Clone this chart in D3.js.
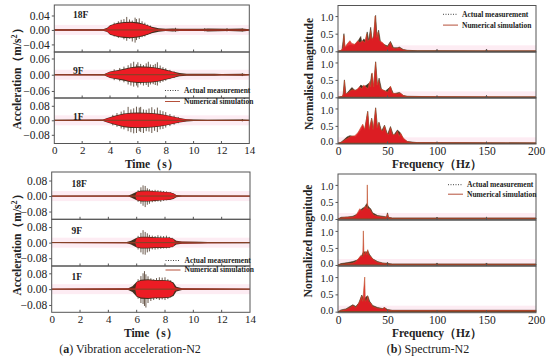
<!DOCTYPE html>
<html>
<head>
<meta charset="utf-8">
<script src="https://cdn.jsdelivr.net/npm/d3@7"></script>
<style>
  body { margin: 0; background: #fff; }
  svg { display: block; }
  text { font-family: "Liberation Serif", "Times New Roman", serif; fill: #222; }
</style>
</head>
<body>
<svg id="chart" width="550" height="361"></svg>
<script>
// ---- data ----
var floors = ["18F", "9F", "1F"]
var timeTicks = [0, 2, 4, 6, 8, 10, 12, 14]
var freqTicks = [0, 50, 100, 150, 200]
var magTicks = [0.0, 0.5, 1.0]

// top-left: acceleration envelopes [t, amp] and spikes [t, up, down]
var top18Sim = [[0,0.0015],[3.5,0.0015],[3.8,0.004],[4.0,0.011],[4.3,0.015],[4.7,0.018],[5.0,0.019],[5.5,0.02],[6.0,0.018],[6.4,0.015],[6.8,0.01],[7.0,0.006],[7.3,0.003],[7.6,0.002],[14,0.0015]]
var top18Meas = [[0,0.002],[3.5,0.002],[3.8,0.006],[4.0,0.013],[4.5,0.019],[5.0,0.022],[5.5,0.023],[6.0,0.021],[6.5,0.016],[7.0,0.009],[7.5,0.005],[8.0,0.003],[8.5,0.004],[9.0,0.003],[10.8,0.003],[11,0.004],[12.5,0.003],[13.5,0.004],[14,0.002]]
var top18Spikes = [[4.3,0.02,-0.018],[4.6,0.024,-0.022],[4.8,0.028,-0.02],[5.0,0.03,-0.026],[5.2,0.036,-0.03],[5.4,0.029,-0.024],[5.6,0.026,-0.032],[5.8,0.034,-0.035],[5.9,0.03,-0.028],[6.1,0.032,-0.025],[6.3,0.024,-0.02],[6.5,0.02,-0.018],[6.7,0.015,-0.014],[6.9,0.012,-0.01],[8.7,0.006,-0.005],[10.8,0.005,-0.004],[12.4,0.005,-0.004],[13.5,0.004,-0.004]]

var top9Sim = [[0,0.0015],[3.6,0.002],[4.0,0.01],[4.5,0.014],[5.0,0.018],[5.5,0.025],[6.0,0.027],[6.5,0.027],[7.0,0.026],[7.5,0.022],[8.0,0.016],[8.5,0.01],[8.9,0.004],[9.2,0.002],[14,0.0015]]
var top9Meas = [[0,0.002],[3.6,0.003],[4.0,0.012],[4.5,0.017],[5.0,0.022],[5.5,0.028],[6.0,0.031],[6.5,0.03],[7.0,0.029],[7.5,0.025],[8.0,0.019],[8.5,0.012],[9.0,0.006],[9.5,0.004],[10.5,0.004],[11.5,0.004],[12,0.003],[13.5,0.004],[14,0.002]]
var top9Spikes = [[4.3,0.02,-0.02],[4.7,0.025,-0.024],[5.0,0.03,-0.028],[5.3,0.035,-0.036],[5.5,0.042,-0.04],[5.7,0.048,-0.044],[5.9,0.038,-0.04],[6.0,0.046,-0.047],[6.2,0.04,-0.036],[6.4,0.036,-0.04],[6.6,0.042,-0.038],[6.75,0.048,-0.045],[6.9,0.038,-0.036],[7.1,0.036,-0.035],[7.25,0.04,-0.038],[7.4,0.046,-0.04],[7.6,0.034,-0.03],[7.8,0.028,-0.026],[8.0,0.024,-0.022],[8.3,0.018,-0.016],[8.6,0.012,-0.012],[13.5,0.006,-0.005]]

var top1Sim = [[0,0.002],[3.5,0.003],[3.8,0.01],[4.2,0.018],[4.6,0.026],[5.0,0.033],[5.5,0.037],[6.0,0.038],[6.5,0.037],[7.0,0.036],[7.5,0.032],[8.0,0.026],[8.5,0.018],[9.0,0.01],[9.5,0.004],[10,0.002],[14,0.002]]
var top1Meas = [[0,0.0025],[3.5,0.004],[3.8,0.012],[4.2,0.022],[4.6,0.03],[5.0,0.038],[5.5,0.042],[6.0,0.043],[6.5,0.042],[7.0,0.04],[7.5,0.036],[8.0,0.029],[8.5,0.021],[9.0,0.012],[9.5,0.006],[10,0.004],[11,0.003],[13.5,0.004],[14,0.003]]
var top1Spikes = [[4.2,0.03,-0.028],[4.5,0.04,-0.036],[4.8,0.048,-0.045],[5.0,0.055,-0.05],[5.3,0.074,-0.06],[5.5,0.06,-0.066],[5.7,0.066,-0.072],[5.9,0.075,-0.07],[6.1,0.07,-0.06],[6.2,0.074,-0.065],[6.4,0.06,-0.07],[6.6,0.058,-0.06],[6.8,0.065,-0.062],[7.0,0.072,-0.07],[7.2,0.06,-0.058],[7.4,0.07,-0.065],[7.6,0.055,-0.05],[7.8,0.05,-0.048],[8.0,0.045,-0.04],[8.3,0.035,-0.032],[8.6,0.026,-0.024],[8.9,0.018,-0.016],[13.5,0.007,-0.006]]

// bottom-left (N2)
var bot18Sim = [[0,0.002],[5.9,0.002],[6.0,0.02],[6.3,0.024],[6.8,0.025],[7.3,0.022],[7.8,0.02],[8.3,0.018],[8.6,0.012],[8.8,0.003],[9.0,0.002],[14,0.002]]
var bot18Meas = [[0,0.002],[5.4,0.003],[5.6,0.008],[6.0,0.022],[6.3,0.028],[6.8,0.028],[7.3,0.025],[7.8,0.022],[8.3,0.02],[8.6,0.015],[8.8,0.006],[9.2,0.003],[14,0.002]]
var bot18Spikes = [[6.1,0.03,-0.03],[6.3,0.045,-0.04],[6.45,0.055,-0.05],[6.6,0.052,-0.057],[6.75,0.04,-0.045],[6.9,0.035,-0.04],[7.1,0.03,-0.032],[7.3,0.032,-0.03],[7.5,0.03,-0.028],[7.7,0.028,-0.03],[7.9,0.026,-0.025],[8.1,0.024,-0.022],[8.4,0.02,-0.018]]

var bot9Sim = [[0,0.002],[5.9,0.003],[6.0,0.022],[6.3,0.026],[6.8,0.026],[7.3,0.024],[7.8,0.024],[8.3,0.024],[8.6,0.018],[8.7,0.006],[9.0,0.004],[10.5,0.003],[14,0.002]]
var bot9Meas = [[0,0.002],[5.3,0.003],[5.6,0.01],[6.0,0.025],[6.3,0.03],[6.8,0.03],[7.3,0.028],[7.8,0.027],[8.3,0.026],[8.6,0.02],[8.8,0.01],[9.2,0.006],[10.5,0.005],[11,0.003],[14,0.003]]
var bot9Spikes = [[6.1,0.035,-0.035],[6.3,0.05,-0.05],[6.45,0.064,-0.06],[6.6,0.055,-0.062],[6.75,0.048,-0.05],[6.9,0.04,-0.045],[7.1,0.036,-0.035],[7.3,0.034,-0.036],[7.5,0.038,-0.034],[7.7,0.035,-0.032],[7.9,0.034,-0.03],[8.1,0.036,-0.03],[8.3,0.03,-0.028],[8.5,0.025,-0.024]]

var bot1Sim = [[0,0.002],[5.9,0.003],[6.0,0.035],[6.3,0.042],[6.8,0.045],[7.3,0.042],[7.8,0.042],[8.3,0.04],[8.55,0.03],[8.7,0.008],[9.0,0.003],[14,0.002]]
var bot1Meas = [[0,0.002],[5.4,0.004],[5.7,0.015],[6.0,0.038],[6.3,0.048],[6.8,0.05],[7.3,0.046],[7.8,0.046],[8.3,0.044],[8.6,0.034],[8.8,0.012],[9.2,0.004],[14,0.002]]
var bot1Spikes = [[6.1,0.05,-0.048],[6.3,0.066,-0.07],[6.45,0.08,-0.075],[6.55,0.091,-0.085],[6.65,0.075,-0.093],[6.8,0.065,-0.07],[7.0,0.055,-0.06],[7.2,0.05,-0.055],[7.4,0.056,-0.05],[7.6,0.06,-0.055],[7.8,0.058,-0.052],[8.0,0.06,-0.055],[8.2,0.05,-0.05],[8.4,0.045,-0.042]]

// spectra [Hz, normalised magnitude]
var spTop18Sim = [[0,0],[3,0.02],[5,0.1],[6,0.45],[7,0.12],[9,0.2],[12,0.3],[14,0.22],[17,0.2],[20,0.3],[22,0.25],[25,0.3],[27,0.25],[29,0.5],[30,0.3],[32,0.35],[33,0.6],[34,0.35],[36,0.4],[37.5,1.0],[39,0.4],[40.5,0.55],[42,0.3],[45,0.25],[48,0.15],[50,0.12],[53,0.25],[55,0.1],[58,0.08],[62,0.1],[65,0.05],[70,0.02],[75,0.01],[200,0.01]]
var spTop18Meas = [[0,0],[4,0.03],[6,0.5],[7,0.1],[10,0.15],[13,0.18],[16,0.16],[20,0.28],[23,0.42],[24,0.25],[26,0.35],[28,0.3],[29.5,0.55],[31,0.3],[33,0.68],[34.5,0.3],[36,0.45],[38,1.02],[39.5,0.35],[41,0.6],[43,0.25],[46,0.2],[50,0.15],[53,0.28],[56,0.1],[60,0.1],[62,0.12],[66,0.05],[70,0.03],[80,0.015],[99,0.015],[100,0.05],[101,0.015],[149,0.01],[150,0.06],[151,0.01],[200,0.01]]
var spTop9Sim = [[0,0],[4,0.02],[5.5,0.1],[6.5,0.48],[7.5,0.1],[10,0.12],[13,0.2],[15,0.22],[18,0.2],[20,0.25],[22,0.3],[24,0.25],[26,0.35],[28,0.3],[30,0.25],[32,0.45],[33,0.3],[34.5,0.7],[36,0.3],[38,1.0],[39.5,0.35],[41,0.5],[43,0.25],[46,0.2],[50,0.15],[53,0.32],[55,0.12],[60,0.1],[63,0.12],[66,0.05],[70,0.02],[200,0.01]]
var spTop9Meas = [[0,0],[5,0.03],[6.5,0.5],[8,0.08],[11,0.18],[14,0.28],[17,0.2],[20,0.22],[23,0.35],[26,0.3],[29,0.35],[31,0.4],[32,0.25],[34,0.68],[36,0.3],[38,1.02],[40,0.3],[41.5,0.55],[44,0.22],[48,0.18],[53,0.3],[56,0.1],[62,0.14],[66,0.05],[70,0.03],[99,0.015],[100,0.04],[101,0.015],[149,0.01],[150,0.05],[151,0.01],[200,0.01]]
var spTop1Sim = [[0,0],[3,0.02],[6,0.08],[10,0.15],[13,0.2],[17,0.22],[20,0.3],[22,0.4],[25,0.55],[27,0.4],[30,0.9],[31.5,0.4],[34,0.7],[35.5,0.4],[38,1.0],[39.5,0.45],[41,0.6],[43,0.4],[45,0.35],[47,0.5],[49,0.3],[51,0.25],[53,0.45],[55,0.25],[58,0.25],[60,0.35],[62,0.2],[63,0.3],[66,0.15],[70,0.05],[75,0.02],[200,0.01]]
var spTop1Meas = [[0,0],[3,0.03],[6,0.1],[9,0.18],[12,0.22],[15,0.2],[18,0.18],[21,0.3],[24,0.4],[25,0.5],[27,0.38],[30,0.92],[31.5,0.35],[34,0.72],[36,0.4],[38,1.02],[40,0.42],[41.5,0.6],[44,0.35],[47,0.52],[50,0.25],[53,0.48],[56,0.22],[60,0.38],[63,0.3],[66,0.12],[70,0.05],[80,0.02],[200,0.01]]

var spBot18Sim = [[0,0],[3,0.03],[8,0.05],[15,0.06],[18,0.1],[20,0.2],[22,0.3],[24,0.25],[26,0.3],[28,0.38],[29.3,0.3],[29.6,1.0],[30,0.3],[32,0.3],[34,0.2],[36,0.12],[40,0.08],[45,0.06],[49,0.05],[50,0.15],[51,0.04],[55,0.02],[200,0.02]]
var spBot18Meas = [[0,0],[3,0.05],[10,0.06],[15,0.08],[20,0.15],[24,0.3],[27,0.35],[29,0.45],[31,0.35],[33,0.3],[35,0.18],[40,0.1],[45,0.08],[49,0.06],[50,0.18],[51,0.05],[55,0.03],[99,0.03],[100,0.05],[101,0.03],[149,0.03],[150,0.05],[151,0.03],[200,0.03]]
var spBot9Sim = [[0,0],[3,0.02],[10,0.04],[15,0.06],[18,0.1],[21,0.2],[23,0.28],[25,0.25],[25.6,1.0],[26.2,0.3],[28,0.4],[29,0.3],[30,0.45],[31,0.3],[33,0.25],[36,0.15],[40,0.08],[45,0.05],[50,0.03],[55,0.02],[200,0.02]]
var spBot9Meas = [[0,0],[3,0.04],[10,0.07],[15,0.1],[20,0.15],[24,0.28],[26,0.4],[28,0.35],[30,0.42],[32,0.3],[35,0.18],[40,0.1],[45,0.06],[49,0.05],[50,0.08],[51,0.04],[55,0.03],[99,0.03],[100,0.06],[101,0.03],[149,0.03],[150,0.06],[151,0.03],[200,0.03]]
var spBot1Sim = [[0,0],[3,0.03],[8,0.06],[12,0.12],[15,0.18],[18,0.12],[20,0.2],[22,0.3],[24,0.45],[25,0.3],[27,1.0],[27.6,0.3],[29,0.35],[30,0.45],[31,0.3],[33,0.25],[35,0.15],[40,0.1],[45,0.08],[47,0.12],[49,0.05],[55,0.03],[200,0.03]]
var spBot1Meas = [[0,0],[3,0.05],[8,0.08],[12,0.15],[15,0.2],[18,0.15],[21,0.25],[24,0.48],[26,0.35],[28,0.42],[30,0.46],[32,0.3],[35,0.18],[40,0.12],[45,0.09],[47,0.12],[50,0.06],[55,0.04],[200,0.04]]

var legendLabels = ["Actual measurement", "Numerical simulation"]

// ---- colours ----
var simColor = "#ec1c24"
var measColor = "#45301f"
var baseColor = "#7a4526"
var frameColor = "#555"

var svg = d3.select("#chart")

// time history block
function drawAcc(cfg) {
    var x = d3.scaleLinear().domain([0, 14]).range([cfg.x0, cfg.x1])
    cfg.rows.forEach(function (r, i) {
        var y = d3.scaleLinear().domain(r.domain).range([r.bottom, r.top])
        var g = svg.append("g")

        // faint pink halo (jpeg-like glow around the red signal)
        g.append("rect").attr("x", cfg.x0).attr("width", cfg.x1 - cfg.x0)
            .attr("y", y(0) - 5).attr("height", 10).attr("fill", "#fbdce9").attr("opacity", 0.55)

        var area = d3.area()
            .x(function (d) { return x(d[0]) })
            .y0(function (d) { return y(-d[1]) })
            .y1(function (d) { return y(d[1]) })

        // measurement peaks sit behind the simulation so only the overshoot shows
        g.selectAll(".spk").data(r.spikes).enter().append("line")
            .attr("x1", function (d) { return x(d[0]) })
            .attr("x2", function (d) { return x(d[0]) })
            .attr("y1", function (d) { return y(d[2]) })
            .attr("y2", function (d) { return y(d[1]) })
            .attr("stroke", measColor).attr("stroke-width", 0.8)

        g.append("path").datum(r.meas).attr("d", area).attr("fill", measColor)
        g.append("path").datum(r.sim).attr("d", area).attr("fill", simColor)

        g.append("line").attr("x1", cfg.x0).attr("x2", cfg.x1)
            .attr("y1", y(0)).attr("y2", y(0))
            .attr("stroke", baseColor).attr("stroke-width", 1)

        // y axis
        g.append("g").attr("transform", "translate(" + cfg.x0 + ",0)")
            .call(d3.axisLeft(y).tickValues(r.ticks).tickSize(2.5).tickPadding(2)
                .tickFormat(d3.format(".2f")))
            .call(function (a) {
                a.select(".domain").remove()
                a.selectAll("line").attr("stroke", frameColor)
                a.selectAll("text").attr("font-size", 11.5).attr("fill", "#222")
                    .style("font-family", "Liberation Serif")
            })

        // inward x ticks on each subpanel bottom
        g.selectAll(".xt").data(timeTicks.slice(1, -1)).enter().append("line")
            .attr("x1", function (d) { return x(d) }).attr("x2", function (d) { return x(d) })
            .attr("y1", r.bottom).attr("y2", r.bottom - 2.5)
            .attr("stroke", frameColor)

        g.append("text").attr("x", cfg.labelX).attr("y", r.labelY)
            .attr("font-size", 9.5).attr("font-weight", "bold").attr("dy", "0.35em")
            .text(floors[i])

        g.append("rect").attr("x", cfg.x0).attr("y", r.top)
            .attr("width", cfg.x1 - cfg.x0).attr("height", r.bottom - r.top)
            .attr("fill", "none").attr("stroke", frameColor).attr("stroke-width", 1)
    })

    var last = cfg.rows[cfg.rows.length - 1]
    svg.append("g").attr("transform", "translate(0," + last.bottom + ")")
        .call(d3.axisBottom(x).tickValues(timeTicks).tickSize(0).tickPadding(3))
        .call(function (a) {
            a.select(".domain").remove()
            a.selectAll("text").attr("font-size", 11).attr("fill", "#222")
                .style("font-family", "Liberation Serif")
        })

    svg.append("text").attr("x", (cfg.x0 + cfg.x1) / 2).attr("y", cfg.titleY)
        .attr("text-anchor", "middle").attr("font-size", 11.5).attr("font-weight", "bold")
        .text("Time（s）")

    var yt = svg.append("text")
        .attr("transform", "translate(" + cfg.yTitleX + "," + cfg.yTitleY + ") rotate(-90)")
        .attr("text-anchor", "middle").attr("font-size", 11.5).attr("font-weight", "bold")
    yt.append("tspan").text("Acceleration（m/s")
    yt.append("tspan").attr("font-size", 8).attr("dy", -4).text("2")
    yt.append("tspan").attr("dy", 4).text("）")

    drawLegend(cfg.legend)
}

function drawSpec(cfg) {
    var x = d3.scaleLinear().domain([0, 200]).range([cfg.x0, cfg.x1])
    cfg.rows.forEach(function (r, i) {
        var y = d3.scaleLinear().domain(cfg.domain).range([r.bottom, r.top])
        var g = svg.append("g")

        g.append("rect").attr("x", cfg.x0).attr("width", cfg.x1 - cfg.x0)
            .attr("y", y(0) - 6).attr("height", 7).attr("fill", "#fbdce9").attr("opacity", 0.55)

        var area = d3.area()
            .x(function (d) { return x(d[0]) })
            .y0(y(0))
            .y1(function (d) { return y(d[1]) })

        g.append("path").datum(r.meas).attr("d", area).attr("fill", measColor)
            .attr("stroke", measColor).attr("stroke-width", 0.6)
        g.append("path").datum(r.sim).attr("d", area).attr("fill", simColor).attr("fill-opacity", 0.9)
            .attr("stroke", "#c0552f").attr("stroke-width", 0.6)

        g.append("line").attr("x1", cfg.x0).attr("x2", cfg.x1)
            .attr("y1", y(0)).attr("y2", y(0))
            .attr("stroke", baseColor).attr("stroke-width", 1.2)

        g.append("g").attr("transform", "translate(" + cfg.x0 + ",0)")
            .call(d3.axisLeft(y).tickValues(magTicks).tickSize(2.5).tickPadding(2)
                .tickFormat(d3.format(".1f")))
            .call(function (a) {
                a.select(".domain").remove()
                a.selectAll("line").attr("stroke", frameColor)
                a.selectAll("text").attr("font-size", 10.5).attr("fill", "#222")
                    .style("font-family", "Liberation Serif")
                    .attr("dy", function (d) { return d === 0 ? "0.15em" : (d === 1 ? "0.45em" : "0.32em") })
            })

        g.selectAll(".xt").data(freqTicks.slice(1, -1)).enter().append("line")
            .attr("x1", function (d) { return x(d) }).attr("x2", function (d) { return x(d) })
            .attr("y1", r.bottom).attr("y2", r.bottom - 2.5)
            .attr("stroke", frameColor)

        g.append("rect").attr("x", cfg.x0).attr("y", r.top)
            .attr("width", cfg.x1 - cfg.x0).attr("height", r.bottom - r.top)
            .attr("fill", "none").attr("stroke", frameColor).attr("stroke-width", 1)
    })

    var last = cfg.rows[cfg.rows.length - 1]
    svg.append("g").attr("transform", "translate(0," + last.bottom + ")")
        .call(d3.axisBottom(x).tickValues(freqTicks).tickSize(0).tickPadding(3))
        .call(function (a) {
            a.select(".domain").remove()
            a.selectAll("text").attr("font-size", 11.5).attr("fill", "#222")
                .style("font-family", "Liberation Serif")
        })

    svg.append("text").attr("x", (cfg.x0 + cfg.x1) / 2).attr("y", cfg.titleY)
        .attr("text-anchor", "middle").attr("font-size", 11.5).attr("font-weight", "bold")
        .text("Frequency（Hz）")

    svg.append("text")
        .attr("transform", "translate(" + cfg.yTitleX + "," + cfg.yTitleY + ") rotate(-90)")
        .attr("text-anchor", "middle").attr("font-size", 11.5).attr("font-weight", "bold")
        .text(cfg.yTitle)

    drawLegend(cfg.legend)
}

function drawLegend(l) {
    var g = svg.append("g")
    legendLabels.forEach(function (lab, i) {
        var yy = l.y + i * l.gap
        g.append("line").attr("x1", l.x).attr("x2", l.x + 15).attr("y1", yy).attr("y2", yy)
            .attr("stroke", i === 0 ? "#444" : "#b5503a").attr("stroke-width", 1)
            .attr("stroke-dasharray", i === 0 ? "1,1.5" : null)
        g.append("text").attr("x", l.x + 19).attr("y", yy).attr("dy", "0.33em")
            .attr("font-size", 7.5).attr("font-weight", "bold").text(lab)
    })
}

drawAcc({
    x0: 54.3, x1: 249.3, labelX: 73, titleY: 168, yTitleX: 21, yTitleY: 76,
    legend: { x: 165, y: 90.5, gap: 11 },
    rows: [
        { top: 5, bottom: 52, domain: [-0.061, 0.069], ticks: [-0.04, 0, 0.04], sim: top18Sim, meas: top18Meas, spikes: top18Spikes, labelY: 15 },
        { top: 52, bottom: 98, domain: [-0.086, 0.084], ticks: [-0.06, 0, 0.06], sim: top9Sim, meas: top9Meas, spikes: top9Spikes, labelY: 71 },
        { top: 98, bottom: 143.5, domain: [-0.128, 0.123], ticks: [-0.08, 0, 0.08], sim: top1Sim, meas: top1Meas, spikes: top1Spikes, labelY: 116.5 }
    ]
})

drawAcc({
    x0: 51.7, x1: 250, labelX: 71.5, titleY: 337, yTitleX: 21, yTitleY: 242,
    legend: { x: 165.5, y: 260.5, gap: 9.5 },
    rows: [
        { top: 172, bottom: 219.3, domain: [-0.12, 0.124], ticks: [-0.08, 0, 0.08], sim: bot18Sim, meas: bot18Meas, spikes: bot18Spikes, labelY: 184 },
        { top: 219.3, bottom: 266, domain: [-0.12, 0.12], ticks: [-0.08, 0, 0.08], sim: bot9Sim, meas: bot9Meas, spikes: bot9Spikes, labelY: 231 },
        { top: 266, bottom: 312.3, domain: [-0.117, 0.117], ticks: [-0.08, 0, 0.08], sim: bot1Sim, meas: bot1Meas, spikes: bot1Spikes, labelY: 277 }
    ]
})

drawSpec({
    x0: 338, x1: 536, domain: [-0.02, 1.3], titleY: 168, yTitleX: 313, yTitleY: 74,
    yTitle: "Normalised magnitude",
    legend: { x: 443, y: 14.3, gap: 10.8 },
    rows: [
        { top: 5.5, bottom: 52, sim: spTop18Sim, meas: spTop18Meas },
        { top: 52, bottom: 98, sim: spTop9Sim, meas: spTop9Meas },
        { top: 98, bottom: 144, sim: spTop1Sim, meas: spTop1Meas }
    ]
})

drawSpec({
    x0: 338, x1: 536, domain: [-0.03, 1.32], titleY: 337, yTitleX: 312, yTitleY: 241,
    yTitle: "Normalized magnitude",
    legend: { x: 448, y: 184.7, gap: 9.5 },
    rows: [
        { top: 174, bottom: 220, sim: spBot18Sim, meas: spBot18Meas },
        { top: 220, bottom: 266, sim: spBot9Sim, meas: spBot9Meas },
        { top: 266, bottom: 312.7, sim: spBot1Sim, meas: spBot1Meas }
    ]
})

// captions
var capA = svg.append("text").attr("x", 130).attr("y", 353).attr("text-anchor", "middle").attr("font-size", 12)
capA.append("tspan").text("(")
capA.append("tspan").attr("font-weight", "bold").text("a")
capA.append("tspan").text(") Vibration acceleration-N2")
var capB = svg.append("text").attr("x", 428).attr("y", 353).attr("text-anchor", "middle").attr("font-size", 12)
capB.append("tspan").text("(")
capB.append("tspan").attr("font-weight", "bold").text("b")
capB.append("tspan").text(") Spectrum-N2")
</script>
</body>
</html>
